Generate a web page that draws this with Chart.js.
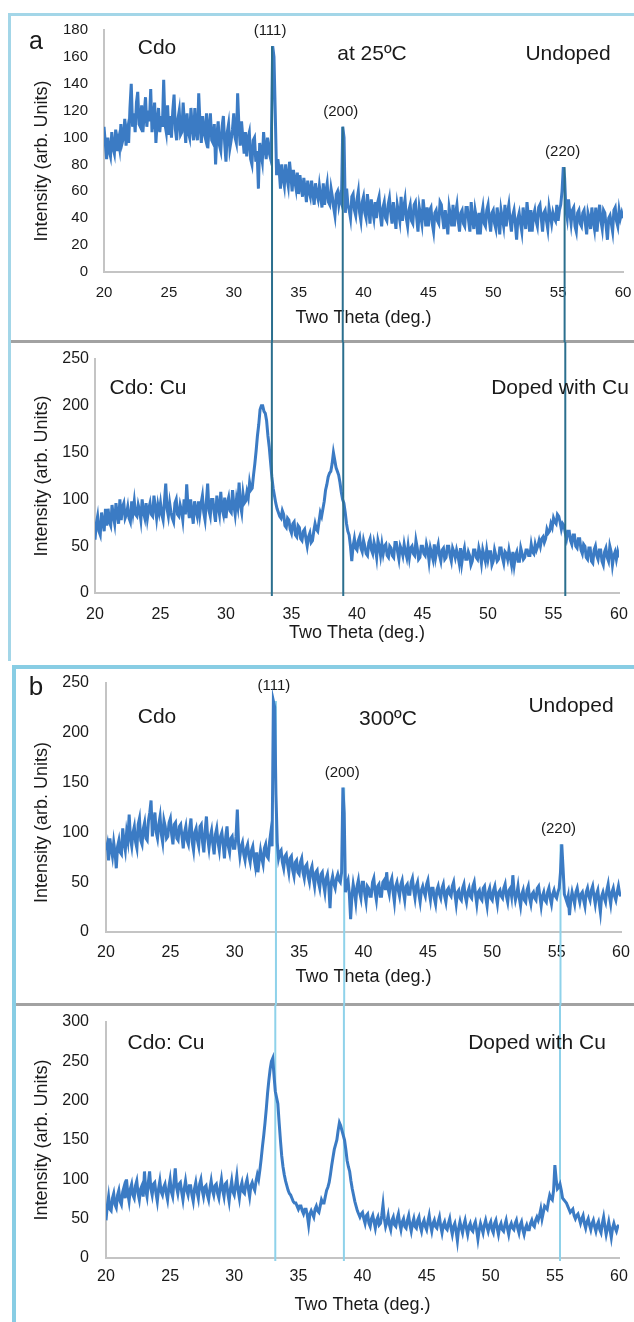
<!DOCTYPE html>
<html lang="en">
<head>
  <meta charset="UTF-8">
  <title>CdO XRD patterns</title>
  <script src="https://cdn.jsdelivr.net/npm/chart.js"></script>
  <style>
    html, body { margin: 0; padding: 0; background: #fff; }
    body { position: relative; width: 634px; height: 1322px; overflow: hidden;
           font-family: "Liberation Sans", Arial, sans-serif; color: #1a1a1a; }
    canvas { position: absolute; left: 0; }
    .rule { position: absolute; }
    .lbl { position: absolute; transform: translate(-50%, -50%); white-space: nowrap; font-size: 21px; }
  </style>
</head>
<body>
  <!-- frames and separators -->
  <div class="rule" style="left:8px;top:13px;width:626px;height:3px;background:#a3d6e8"></div>
  <div class="rule" style="left:8px;top:13px;width:3px;height:648px;background:#a3d6e8"></div>
  <div class="rule" style="left:11px;top:340px;width:623px;height:3px;background:#a2a2a2"></div>
  <div class="rule" style="left:12px;top:665px;width:622px;height:4px;background:#88cde4"></div>
  <div class="rule" style="left:12px;top:665px;width:4px;height:657px;background:#88cde4"></div>
  <div class="rule" style="left:16px;top:1003px;width:618px;height:3px;background:#a2a2a2"></div>

  <canvas id="chartA1" width="634" height="326" style="top:16px"></canvas>
  <canvas id="chartA2" width="634" height="318" style="top:342px"></canvas>
  <canvas id="chartB1" width="634" height="337" style="top:668px"></canvas>
  <canvas id="chartB2" width="634" height="317" style="top:1005px"></canvas>

  <div class="lbl" style="left:36px;top:40px;font-size:25px">a</div>
  <div class="lbl" style="left:157px;top:47px">Cdo</div>
  <div class="lbl" style="left:372px;top:53px">at 25ºC</div>
  <div class="lbl" style="left:568px;top:53px">Undoped</div>
  <div class="lbl" style="left:148px;top:387px">Cdo: Cu</div>
  <div class="lbl" style="left:560px;top:387px">Doped with Cu</div>

  <div class="lbl" style="left:36px;top:686px;font-size:26px">b</div>
  <div class="lbl" style="left:157px;top:716px">Cdo</div>
  <div class="lbl" style="left:388px;top:718px">300ºC</div>
  <div class="lbl" style="left:571px;top:705px">Undoped</div>
  <div class="lbl" style="left:166px;top:1042px">Cdo: Cu</div>
  <div class="lbl" style="left:537px;top:1042px">Doped with Cu</div>

  <script>
    // 2-theta sampling: 20.0 to 60.0 deg in 0.1 deg steps (401 points per scan, one row = 1 deg)
    const thetaStart = 20;
    const thetaStep = 0.1;
    const xTicks = [20, 25, 30, 35, 40, 45, 50, 55, 60];

    // (a) deposited at 25 C, undoped
    const undoped25 = [
      108, 96, 84, 100, 90, 86, 104, 92, 88, 106,
      90, 98, 92, 110, 96, 100, 114, 94, 104, 96,
      122, 140, 108, 118, 104, 126, 134, 110, 108, 124,
      104, 118, 130, 108, 120, 112, 136, 104, 114, 126,
      96, 112, 122, 104, 116, 108, 143, 110, 104, 124,
      102, 116, 100, 120, 132, 106, 98, 114, 120, 102,
      104, 126, 110, 96, 118, 104, 100, 122, 108, 98,
      122, 104, 98, 133, 110, 96, 116, 104, 100, 118,
      92, 108, 118, 98, 96, 110, 80, 102, 112, 94,
      90, 108, 116, 96, 82, 104, 110, 92, 98, 106,
      118, 100, 96, 133, 108, 94, 112, 100, 88, 104,
      86, 100, 104, 84, 80, 98, 100, 82, 90, 62,
      96, 88, 82, 104, 92, 84, 100, 90, 86, 100,
      168, 160, 118, 72, 84, 76, 62, 80, 70, 64,
      80, 70, 64, 82, 72, 60, 76, 68, 62, 74,
      58, 72, 64, 56, 70, 62, 52, 68, 60, 56,
      68, 58, 50, 66, 58, 54, 64, 56, 48, 66,
      50, 60, 66, 52, 50, 62, 56, 48, 42, 58,
      60, 50, 56, 52, 108, 100, 44, 62, 50, 46,
      40, 56, 58, 46, 42, 54, 60, 44, 38, 52,
      56, 44, 40, 58, 48, 36, 54, 46, 40, 52,
      40, 52, 56, 42, 34, 48, 52, 40, 38, 50,
      55, 44, 36, 52, 42, 32, 50, 44, 38, 56,
      38, 48, 54, 40, 34, 46, 50, 38, 36, 50,
      52, 40, 30, 48, 42, 36, 54, 44, 34, 48,
      34, 46, 48, 36, 30, 44, 46, 38, 36, 52,
      50, 40, 32, 46, 38, 28, 48, 42, 34, 50,
      34, 44, 50, 38, 30, 44, 46, 36, 34, 48,
      48, 38, 30, 52, 40, 32, 46, 40, 28, 44,
      28, 42, 48, 36, 34, 46, 50, 38, 30, 44,
      46, 36, 32, 48, 40, 28, 46, 40, 34, 50,
      34, 44, 50, 38, 30, 42, 46, 36, 24, 40,
      44, 36, 30, 48, 40, 32, 52, 42, 30, 46,
      30, 42, 46, 38, 34, 48, 50, 40, 30, 44,
      46, 38, 32, 48, 42, 36, 44, 40, 38, 50,
      38, 46, 50, 60, 78, 70, 46, 40, 54, 44,
      36, 46, 48, 34, 30, 44, 46, 36, 34, 44,
      46, 36, 28, 44, 40, 32, 48, 38, 32, 48,
      30, 42, 50, 38, 32, 46, 44, 34, 24, 40,
      42, 36, 30, 46, 48, 38, 34, 46, 40, 44,
      40
    ];

    // (a) deposited at 25 C, doped with Cu
    const cuDoped25 = [
      57, 74, 82, 66, 62, 86, 76, 66, 90, 72,
      90, 76, 72, 94, 82, 74, 96, 84, 74, 100,
      78, 92, 96, 80, 84, 92, 80, 76, 98, 86,
      98, 84, 82, 94, 88, 78, 100, 86, 80, 96,
      80, 90, 96, 84, 82, 104, 92, 80, 94, 86,
      96, 84, 78, 98, 117, 90, 82, 96, 86, 80,
      76, 96, 100, 84, 82, 94, 88, 78, 100, 84,
      116, 92, 80, 100, 86, 74, 98, 88, 82, 98,
      84, 96, 104, 86, 78, 98, 117, 88, 82, 100,
      100, 86, 76, 104, 92, 84, 108, 90, 84, 102,
      80, 96, 102, 88, 86, 110, 94, 84, 100, 92,
      118, 94, 86, 106, 96, 98, 108, 102, 118, 110,
      112, 126, 138, 152, 168, 180, 196, 200, 200, 194,
      192, 184, 168, 156, 140, 124, 112, 104, 96, 90,
      86, 82, 80, 88, 84, 72, 70, 80, 78, 68,
      64, 74, 76, 62, 60, 72, 70, 58, 56, 66,
      68, 58, 50, 60, 64, 54, 56, 66, 74, 68,
      66, 76, 86, 82, 90, 98, 110, 116, 124, 128,
      130, 138, 150, 142, 134, 130, 126, 118, 108, 100,
      96, 86, 74, 66, 62, 50, 34, 50, 58, 48,
      46, 56, 60, 48, 44, 56, 50, 42, 40, 54,
      58, 46, 42, 54, 48, 38, 56, 50, 40, 52,
      42, 50, 52, 40, 38, 50, 48, 40, 38, 54,
      54, 44, 36, 50, 46, 40, 52, 44, 38, 50,
      38, 48, 50, 42, 40, 56, 48, 36, 38, 50,
      50, 42, 40, 52, 46, 34, 48, 42, 36, 52,
      38, 46, 52, 40, 34, 46, 48, 36, 38, 50,
      50, 40, 34, 48, 44, 38, 46, 40, 32, 48,
      32, 42, 48, 36, 36, 44, 40, 30, 34, 46,
      46, 38, 36, 48, 42, 32, 46, 40, 34, 46,
      36, 44, 44, 30, 34, 46, 40, 34, 36, 48,
      48, 38, 32, 44, 42, 36, 46, 38, 30, 44,
      30, 40, 44, 34, 34, 48, 42, 36, 38, 46,
      46, 40, 40, 52, 44, 42, 52, 46, 50, 56,
      50, 58, 60, 54, 58, 68, 64, 66, 74, 70,
      80, 76, 74, 84, 82, 76, 68, 74, 72, 64,
      58, 66, 66, 56, 52, 62, 62, 50, 48, 58,
      58, 46, 42, 52, 50, 38, 36, 48, 48, 34,
      32, 46, 50, 40, 36, 46, 46, 34, 30, 44,
      48, 38, 34, 50, 44, 30, 40, 44, 36, 44,
      38
    ];

    // (b) annealed at 300 C, undoped
    const undoped300 = [
      82, 88, 72, 94, 84, 76, 90, 80, 64, 86,
      92, 80, 78, 104, 90, 82, 100, 92, 118, 94,
      86, 100, 106, 90, 84, 108, 114, 92, 88, 104,
      110, 94, 92, 112, 120, 132, 96, 110, 120, 100,
      94, 108, 116, 98, 90, 112, 106, 94, 96, 110,
      114, 98, 88, 108, 110, 94, 92, 106, 108, 96,
      84, 100, 106, 92, 88, 104, 114, 90, 82, 100,
      104, 92, 86, 106, 108, 90, 80, 102, 116, 94,
      84, 96, 102, 88, 78, 98, 104, 90, 82, 96,
      100, 88, 74, 96, 106, 86, 80, 94, 96, 84,
      84, 96, 123, 88, 76, 86, 90, 78, 72, 84,
      88, 76, 70, 82, 86, 74, 66, 80, 60, 72,
      82, 74, 68, 84, 88, 76, 74, 90, 100, 86,
      232, 226, 138, 90, 74, 80, 82, 70, 64, 76,
      78, 68, 60, 74, 76, 62, 56, 70, 72, 60,
      58, 70, 74, 60, 54, 66, 68, 56, 50, 62,
      66, 54, 46, 60, 62, 50, 44, 58, 60, 48,
      40, 54, 58, 46, 24, 50, 56, 48, 44, 54,
      58, 52, 50, 60, 145, 120, 40, 48, 52, 38,
      13, 36, 48, 40, 30, 46, 52, 40, 34, 50,
      50, 38, 30, 46, 44, 36, 36, 50, 54, 40,
      32, 46, 48, 36, 36, 50, 52, 42, 60, 44,
      38, 50, 54, 40, 30, 46, 50, 42, 36, 48,
      52, 40, 32, 46, 48, 38, 38, 50, 54, 42,
      34, 46, 50, 38, 30, 42, 46, 40, 36, 48,
      52, 40, 32, 44, 44, 34, 28, 42, 46, 38,
      34, 44, 48, 36, 30, 42, 44, 38, 36, 46,
      50, 38, 28, 40, 42, 34, 32, 44, 48, 36,
      30, 40, 44, 36, 34, 46, 50, 38, 28, 40,
      42, 34, 32, 44, 46, 34, 26, 40, 44, 34,
      32, 42, 46, 36, 28, 40, 42, 36, 34, 44,
      48, 36, 30, 42, 44, 36, 57, 40, 32, 38,
      46, 34, 26, 38, 42, 32, 30, 42, 46, 34,
      28, 38, 40, 34, 32, 44, 46, 36, 26, 36,
      40, 32, 30, 40, 44, 34, 28, 38, 42, 36,
      34, 40, 44, 60, 88, 64, 38, 34, 30, 36,
      17, 32, 40, 34, 28, 40, 44, 36, 30, 38,
      40, 32, 26, 40, 44, 36, 32, 42, 46, 36,
      28, 38, 42, 30, 20, 36, 40, 34, 30, 42,
      48, 36, 28, 40, 44, 36, 32, 40, 46, 38,
      36
    ];

    // (b) annealed at 300 C, doped with Cu
    const cuDoped300 = [
      48, 66, 78, 62, 60, 76, 82, 68, 64, 80,
      86, 72, 68, 84, 90, 76, 100, 82, 72, 88,
      94, 80, 76, 92, 98, 82, 74, 88, 92, 78,
      110, 86, 78, 96, 110, 88, 80, 94, 96, 82,
      72, 88, 98, 84, 80, 90, 94, 82, 74, 90,
      100, 84, 78, 96, 114, 90, 82, 94, 96, 84,
      74, 88, 98, 86, 80, 92, 92, 80, 72, 88,
      96, 84, 76, 94, 100, 86, 78, 90, 92, 80,
      74, 88, 98, 86, 80, 92, 94, 82, 76, 90,
      100, 86, 78, 94, 96, 82, 72, 88, 98, 84,
      80, 92, 104, 86, 76, 90, 96, 84, 82, 94,
      100, 88, 78, 92, 96, 90, 86, 98, 106, 100,
      112, 126, 142, 156, 172, 190, 210, 226, 240, 250,
      254, 232, 212, 204, 196, 172, 150, 130, 116, 106,
      98, 92, 86, 82, 80, 76, 72, 70, 70, 66,
      62, 66, 66, 60, 56, 62, 62, 54, 42, 56,
      60, 56, 52, 62, 66, 60, 58, 66, 74, 70,
      70, 78, 86, 90, 96, 106, 118, 128, 138, 144,
      150, 162, 172, 168, 162, 156, 150, 138, 124, 116,
      110, 98, 88, 80, 72, 66, 60, 56, 52, 56,
      58, 50, 44, 54, 56, 44, 40, 50, 54, 46,
      38, 48, 52, 42, 44, 54, 68, 50, 40, 46,
      54, 42, 36, 48, 52, 42, 40, 50, 56, 44,
      36, 46, 50, 40, 38, 48, 54, 42, 34, 44,
      50, 40, 38, 48, 52, 40, 34, 44, 48, 40,
      36, 46, 54, 42, 34, 44, 48, 40, 38, 46,
      52, 40, 32, 42, 46, 38, 36, 44, 50, 38,
      30, 40, 44, 34, 22, 38, 46, 38, 32, 42,
      48, 38, 30, 40, 44, 36, 34, 42, 46, 36,
      24, 36, 44, 38, 32, 42, 48, 40, 34, 42,
      46, 36, 32, 44, 48, 38, 30, 40, 44, 36,
      34, 42, 48, 38, 30, 40, 44, 38, 36, 44,
      48, 38, 32, 42, 46, 36, 30, 38, 42, 36,
      36, 44, 48, 42, 40, 48, 52, 48, 54, 62,
      50, 58, 66, 64, 62, 72, 80, 76, 74, 86,
      118, 100, 88, 90, 94, 86, 76, 74, 72, 70,
      66, 62, 58, 60, 62, 54, 50, 54, 56, 50,
      44, 50, 54, 44, 38, 46, 50, 42, 36, 44,
      48, 40, 34, 42, 46, 36, 32, 44, 52, 40,
      30, 38, 46, 36, 26, 38, 44, 38, 34, 40,
      42
    ];

    // reflection markers: 2-theta of the guide line, intensity at its top, Miller index
    const hklLabels = ['(111)', '(200)', '(220)'];
    const linesA1 = [32.95, 38.4, 55.5];
    const topsA1 = [168, 108, 78];
    const linesA2 = [33.5, 38.95, 55.9];
    const linesB1 = [33.2, 38.5, 55.3];
    const topsB1 = [232, 145, 88];
    const linesB2 = [33.2, 38.55, 55.4];

    Chart.defaults.font.family = '"Liberation Sans", Arial, sans-serif';
    Chart.defaults.color = '#1a1a1a';

    const peakLines = {
      id: 'peakLines',
      beforeDatasetsDraw(chart, args, o) { if (o.behind) drawPeakLines(chart, o); },
      afterDatasetsDraw(chart, args, o) { if (!o.behind) drawPeakLines(chart, o); }
    };

    function drawPeakLines(chart, o) {
      const { ctx, scales: { x, y } } = chart;
      ctx.save();
      ctx.strokeStyle = o.color;
      ctx.lineWidth = o.width;
      ctx.fillStyle = '#1a1a1a';
      ctx.font = '15px "Liberation Sans", Arial, sans-serif';
      ctx.textAlign = 'center';
      ctx.textBaseline = 'middle';
      o.positions.forEach((p, i) => {
        const px = x.getPixelForValue(p);
        const top = o.tops ? y.getPixelForValue(o.tops[i]) : 0;
        const bottom = o.tops ? chart.height : y.getPixelForValue(0) + 3;
        ctx.beginPath();
        ctx.moveTo(px, top);
        ctx.lineTo(px, bottom);
        ctx.stroke();
        if (o.tops) ctx.fillText(hklLabels[i], px - 2, top - 15);
      });
      ctx.restore();
    }

    function makeChart(id, values, cfg) {
      const points = values.map((v, i) => ({ x: thetaStart + i * thetaStep, y: v }));
      return new Chart(document.getElementById(id), {
        type: 'line',
        data: {
          datasets: [{
            data: points,
            borderColor: '#3b7bc4',
            borderWidth: 3,
            pointRadius: 0,
            tension: 0
          }]
        },
        plugins: [peakLines],
        options: {
          responsive: false,
          animation: false,
          layout: { padding: { top: cfg.padTop, right: cfg.padRight, left: 0, bottom: 0 } },
          plugins: {
            legend: { display: false },
            tooltip: { enabled: false },
            peakLines: cfg.lines
          },
          scales: {
            x: {
              type: 'linear',
              min: 20,
              max: 60,
              afterBuildTicks: s => { s.ticks = xTicks.map(v => ({ value: v })); },
              afterFit: s => { s.height = cfg.xHeight; s.paddingLeft = 0; s.paddingRight = 0; },
              grid: { display: false, drawTicks: false },
              border: { color: '#c4c4c4', width: 2 },
              ticks: { padding: cfg.xTickPad, maxRotation: 0, font: { size: cfg.tickSize } },
              title: {
                display: true,
                text: 'Two Theta (deg.)',
                font: { size: 18 },
                padding: { top: 0, bottom: cfg.xTitlePad }
              }
            },
            y: {
              min: 0,
              max: cfg.yMax,
              afterBuildTicks: s => { s.ticks = cfg.yTicks.map(v => ({ value: v })); },
              afterFit: s => { s.width = cfg.yWidth; s.paddingTop = 0; s.paddingBottom = 0; },
              grid: { display: false, drawTicks: false },
              border: { color: '#c4c4c4', width: 2 },
              ticks: { padding: cfg.yTickPad, font: { size: cfg.tickSize } },
              title: {
                display: true,
                // trailing spaces nudge the rotated title down to where the figure has it
                text: 'Intensity (arb. Units)' + ' '.repeat(cfg.titleNudge),
                font: { size: 18 },
                padding: { top: 31, bottom: 0 }
              }
            }
          }
        }
      });
    }

    makeChart('chartA1', undoped25, {
      padTop: 14, padRight: 11, xHeight: 70, yWidth: 104, xTickPad: 12, yTickPad: 16,
      xTitlePad: 13, tickSize: 15, titleNudge: 4, yMax: 180,
      yTicks: [0, 20, 40, 60, 80, 100, 120, 140, 160, 180],
      lines: { positions: linesA1, tops: topsA1, color: '#2b6f8e', width: 2, behind: false }
    });
    makeChart('chartA2', cuDoped25, {
      padTop: 17, padRight: 15, xHeight: 67, yWidth: 95, xTickPad: 12, yTickPad: 6,
      xTitlePad: 16, tickSize: 16, titleNudge: 0, yMax: 250,
      yTicks: [0, 50, 100, 150, 200, 250],
      lines: { positions: linesA2, color: '#2b6f8e', width: 2, behind: false }
    });
    makeChart('chartB1', undoped300, {
      padTop: 15, padRight: 13, xHeight: 73, yWidth: 106, xTickPad: 11, yTickPad: 17,
      xTitlePad: 17, tickSize: 16, titleNudge: 6, yMax: 250,
      yTicks: [0, 50, 100, 150, 200, 250],
      lines: { positions: linesB1, tops: topsB1, color: '#8fd2ea', width: 2, behind: true }
    });
    makeChart('chartB2', cuDoped300, {
      padTop: 17, padRight: 15, xHeight: 64, yWidth: 106, xTickPad: 9, yTickPad: 17,
      xTitlePad: 6, tickSize: 16, titleNudge: 0, yMax: 300,
      yTicks: [0, 50, 100, 150, 200, 250, 300],
      lines: { positions: linesB2, color: '#8fd2ea', width: 2, behind: true }
    });
  </script>
</body>
</html>
